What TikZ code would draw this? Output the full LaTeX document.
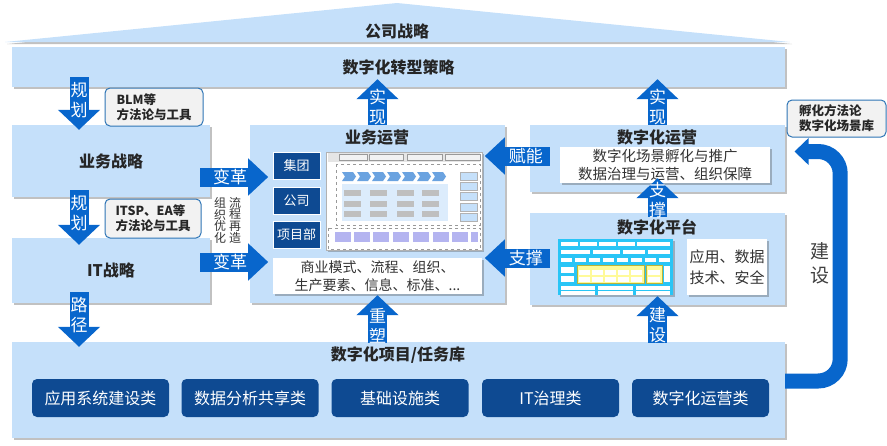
\documentclass[tikz,border=0pt]{standalone}
\usepackage{fontspec}
\setmainfont{Noto Sans CJK SC}
\usepackage{tikz}
\usetikzlibrary{shadows,arrows.meta}
\definecolor{lb}{RGB}{197,224,250}
\definecolor{db}{RGB}{14,74,146}
\definecolor{ab}{RGB}{8,102,204}
\definecolor{cy}{RGB}{41,197,246}
\definecolor{lav}{RGB}{180,180,240}
\definecolor{bd}{RGB}{46,117,182}

\begin{document}
\begin{tikzpicture}[x=1pt,y=-1pt,
  sh/.style={drop shadow={shadow xshift=2pt,shadow yshift=-2pt,opacity=.35,fill=black!70}},
  panel/.style={fill=lb,sh,inner sep=0pt,font=\fontsize{16}{18}\selectfont\bfseries,text=black!85},
  ttl/.style={font=\fontsize{16}{18}\selectfont\bfseries,text=black!85,inner sep=0pt},
  wbox/.style={fill=white,sh,align=center,inner sep=0pt,text=black!80},
  call/.style={draw=bd,line width=1pt,fill=black!5,rounded corners=5pt,align=left,inner sep=0pt,font=\fontsize{12.5}{15}\selectfont\bfseries,text=black!85},
  unit/.style={fill=db,draw=white,line width=.6pt,text=white,inner sep=0pt,minimum width=47pt,minimum height=27pt,font=\fontsize{13}{15}\selectfont},
  cat/.style={fill=db,rounded corners=5pt,text=white,minimum width=137pt,minimum height=38pt,inner sep=0pt,font=\fontsize{16}{18}\selectfont},
  blk/.style={ab,line width=19pt,-{Triangle[length=20pt,width=41pt]}},
  hblk/.style={ab,line width=19pt,-{Triangle[length=20pt,width=36pt]}},
  atxt/.style={text=white,align=center,inner sep=0pt,font=\fontsize{17}{20}\selectfont}]
\useasboundingbox (0,0) rectangle (887,445);

\fill[lb,sh] (5,42) -- (397,3) -- (790,42) -- cycle;
\node[ttl] (cs) at (397,31) {公司战略};
\node[panel,minimum width=773pt,minimum height=40pt] (dt) at (398.5,67) {数字化转型策略};

\node[panel,minimum width=198pt,minimum height=72pt] (bs) at (111,161) {业务战略};
\node[panel,minimum width=198pt,minimum height=65pt] (its) at (111,270.5) {IT战略};
\node[call,minimum width=98pt,minimum height=38pt] (c1) at (154,107) {BLM等\\方法论与工具};
\node[call,minimum width=96pt,minimum height=39pt] (c2) at (153,218.5) {ITSP、EA等\\方法论与工具};

\node[panel,minimum width=255pt,minimum height=178pt] (bo) at (377.5,214) {};
\node[ttl] (bot) at (377,138) {业务运营};
\node[unit] (g1) at (296.5,165.5) {集团};
\node[unit] (g2) at (296.5,200.5) {公司};
\node[unit] (g3) at (296.5,234.5) {项目部};
\node[wbox,minimum width=209pt,minimum height=36pt,font=\fontsize{14}{18}\selectfont] (bm) at (377.5,276) {商业模式、流程、组织、\\生产要素、信息、标准、...};

\fill[white,sh] (326,152) rectangle (482,250);
\draw[black!30,line width=.4pt] (326,152) rectangle (482,250);
\fill[black!10] (328,153) rectangle (480,162);
\foreach \a/\b in {339/367,369/403,407/442,445/480}
  \draw[black!40,fill=black!5,line width=.3pt] (\a,154) rectangle (\b,160);
\draw[black!40,dashed,line width=.3pt] (336,164) rectangle (480,225);
\foreach \i in {0,...,6}
  \fill[ab!60] ({342+15*\i},172) -- ++(11,0) -- ++(3,4.5) -- ++(-3,4.5) -- ++(-11,0) -- ++(3,-4.5) -- cycle;
\fill[lb!60] (342,184) rectangle (448,221);
\foreach \x in {344,370,397,422}
  \foreach \y in {190,200.5,211}
    \fill[black!25] (\x,\y) rectangle ++(17,6);
\foreach \y in {172,182,192,203,213}
  \draw[black!30,fill=lb,line width=.3pt] (460,\y) rectangle ++(17,8);
\draw[black!40,dashed,line width=.3pt] (328,228) rectangle (480,249);
\foreach \x in {335,354,373,393,413,433,452}
  \fill[lav] (\x,232) rectangle ++(16,10);
\fill[lav] (471,232) rectangle (478,242);

\node[panel,minimum width=255pt,minimum height=67pt] (do) at (657.5,158.5) {};
\node[ttl] (dot) at (657,137) {数字化运营};
\node[wbox,minimum width=210pt,minimum height=36pt,font=\fontsize{14.5}{18}\selectfont] (dow) at (665,165) {数字化场景孵化与推广\\数据治理与运营、组织保障};
\node[panel,minimum width=255pt,minimum height=92pt] (dp) at (657.5,259) {};
\node[ttl] (dpt) at (657,227) {数字化平台};
\node[wbox,minimum width=80pt,minimum height=56pt,font=\fontsize{15}{21}\selectfont] (dpw) at (727,267) {应用、数据\\技术、安全};

\fill[cy,sh] (558,239) rectangle (673,295);
\foreach \a/\b in {561/578,580/597,599/616,618/635,637/670}
  \fill[white] (\a,242) rectangle (\b,246);
\foreach \a/\b in {561/590,593/620,623/645,648/670}
  \fill[white] (\a,250) rectangle (\b,254);
\foreach \x in {561,575,589,603,617,631,645,659}
  \fill[white] (\x,258) rectangle ++(11,4);
\fill[white] (561,267) rectangle (574,273);
\fill[white] (561,276) rectangle (574,282);
\draw[yellow!70!black,fill=yellow!40,line width=.3pt] (577,265) rectangle (644,283);
\foreach \x in {579,592,605,618,631}
  \foreach \y in {270,277}
    \fill[white] (\x,\y) rectangle ++(11,4.5);
\draw[yellow!70!black,fill=yellow!40,line width=.3pt] (646,265) rectangle (662,283);
\fill[white] (648,270) rectangle (660,274.5);
\fill[white] (648,277) rectangle (660,281.5);
\fill[white] (664,266) rectangle (670,282);
\foreach \a/\b in {561/595,598/633,636/670}
  \foreach \y in {286,291}
    \fill[white] (\a,\y) rectangle (\b,\y+3.5);

\node[panel,minimum width=773pt,minimum height=96pt] (bt) at (398.5,390) {};
\node[ttl] (btt) at (398,355) {数字化项目/任务库};
\node[cat] (k1) at (100.5,398) {应用系统建设类};
\node[cat] (k2) at (250,398) {数据分析共享类};
\node[cat] (k3) at (400,398) {基础设施类};
\node[cat] (k4) at (550.5,398) {IT治理类};
\node[cat] (k5) at (700.5,398) {数字化运营类};

\node[call,minimum width=99pt,minimum height=37pt] (c3) at (836.5,118.5) {孵化方法论\\数字化场景库};

\node[font=\fontsize{12}{11.7}\selectfont,align=center,inner sep=0pt,text=black!80] (zy) at (220,220.5) {组\\织\\优\\化};
\node[font=\fontsize{12}{11.7}\selectfont,align=center,inner sep=0pt,text=black!80] (lz) at (235,220) {流\\程\\再\\造};

\coordinate (ax) at (79,0);
\draw[blk] ([yshift=10pt]dt.south -| ax) -- ([yshift=-5pt]bs.north -| ax) node[atxt,pos=.43] {规\\划};
\draw[blk] ([yshift=7pt]bs.south -| ax) -- ([yshift=-7pt]its.north -| ax) node[atxt,pos=.42] {规\\划};
\draw[blk] ([yshift=11pt]its.south -| ax) -- ([yshift=-5pt]bt.north -| ax) node[atxt,pos=.42] {路\\径};

\draw[hblk] ([xshift=-10pt,yshift=-16pt]bs.east) -- ++(68,0) node[atxt,pos=.44] {变革};
\draw[hblk] ([xshift=-10pt,yshift=8.5pt]its.east) -- ++(68,0) node[atxt,pos=.44] {变革};
\draw[hblk] ([xshift=20pt,yshift=2.5pt]do.west) -- ++(-65,0) node[atxt,pos=.37] {赋能};
\draw[hblk] ([xshift=20pt,yshift=1pt]dp.west) -- ++(-65,0) node[atxt,pos=.37] {支撑};

\draw[blk] (bo.north) -- ([yshift=8pt]dt.south -| bo.north) node[atxt,pos=.38] {实\\现};
\draw[blk] (do.north) -- ([yshift=8pt]dt.south -| do.north) node[atxt,pos=.38] {实\\现};
\draw[blk] ([yshift=-4pt]dp.north) -- ([yshift=5pt]dow.south -| dp.north) node[atxt,pos=.44] {支\\撑};
\draw[blk] ([yshift=-1pt]bt.north -| dp.north) -- ([yshift=9pt]dp.south) node[atxt,pos=.38] {建\\设};
\draw[blk] ([yshift=-1pt]bt.north -| bo.north) -- ([yshift=-1pt]bm.south) node[atxt,pos=.35] {重\\塑};

\draw[ab,line width=15pt,rounded corners=22pt,-{Triangle[length=14pt,width=26pt]}] ([yshift=9pt]bt.east) -- ++(55,0) |- ([xshift=8pt,yshift=-14pt]c3.south west);
\node[font=\fontsize{19}{24}\selectfont,text=black!75,align=center,inner sep=0pt] (js) at (820,263.5) {建\\设};
\end{tikzpicture}
\end{document}
